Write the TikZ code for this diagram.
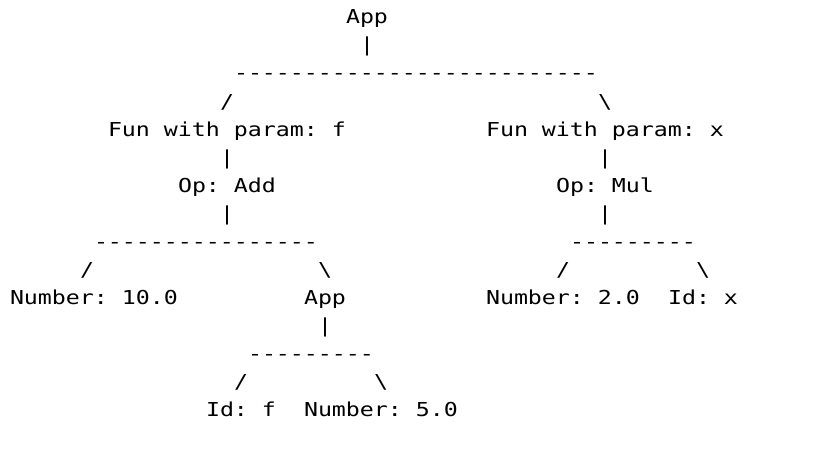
\documentclass[tikz,border=0pt]{standalone}
\usepackage{fontspec}
\newfontfamily\monofam[FakeStretch=1.211]{DejaVu Sans Mono}
\ExplSyntaxOn
\NewDocumentCommand\cells{m}{\str_map_inline:nn {#1} {\makebox[14pt][c]{##1}}}
\ExplSyntaxOff
\newcommand\bsl{\makebox[14pt][c]{\textbackslash}}
\tikzset{cell/.style={anchor=base west, inner sep=0pt, outer sep=0pt,
  font=\monofam\fontsize{19.2pt}{28pt}\selectfont, text=black}}
\begin{document}
\begin{tikzpicture}
\useasboundingbox (0,0) rectangle (822pt,-452pt);
\begin{scope}[shift={(10pt,-24pt)}, x=14pt, y=-28pt]
% row 0-2
\node[cell] (app) at (24,0) {\cells{App}};
\node[cell] (bar0) at (25,1) {\cells{|}};
\node[cell] (dash0) at (16,2) {\cells{--------------------------}};
\node[cell] (sl0) at (15,3) {\cells{/}};
\node[cell] (bs0) at (42,3) {\bsl};
% row 4
\node[cell] (funf) at (7,4) {\cells{Fun with param: f}};
\node[cell] (funx) at (34,4) {\cells{Fun with param: x}};
\node[cell] (bar1) at (15,5) {\cells{|}};
\node[cell] (bar2) at (42,5) {\cells{|}};
% row 6
\node[cell] (add) at (12,6) {\cells{Op: Add}};
\node[cell] (mul) at (39,6) {\cells{Op: Mul}};
\node[cell] (bar3) at (15,7) {\cells{|}};
\node[cell] (bar4) at (42,7) {\cells{|}};
\node[cell] (dash1) at (6,8) {\cells{----------------}};
\node[cell] (dash2) at (40,8) {\cells{---------}};
\node[cell] (sl1) at (5,9) {\cells{/}};
\node[cell] (bs1) at (22,9) {\bsl};
\node[cell] (sl2) at (39,9) {\cells{/}};
\node[cell] (bs2) at (49,9) {\bsl};
% row 10
\node[cell] (n10) at (0,10) {\cells{Number: 10.0}};
\node[cell] (app2) at (21,10) {\cells{App}};
\node[cell] (n2) at (34,10) {\cells{Number: 2.0}};
\node[cell] (idx) at (47,10) {\cells{Id: x}};
\node[cell] (bar5) at (22,11) {\cells{|}};
\node[cell] (dash3) at (17,12) {\cells{---------}};
\node[cell] (sl3) at (16,13) {\cells{/}};
\node[cell] (bs3) at (26,13) {\bsl};
% row 14
\node[cell] (idf) at (14,14) {\cells{Id: f}};
\node[cell] (n5) at (21,14) {\cells{Number: 5.0}};
\end{scope}
\end{tikzpicture}
\end{document}
